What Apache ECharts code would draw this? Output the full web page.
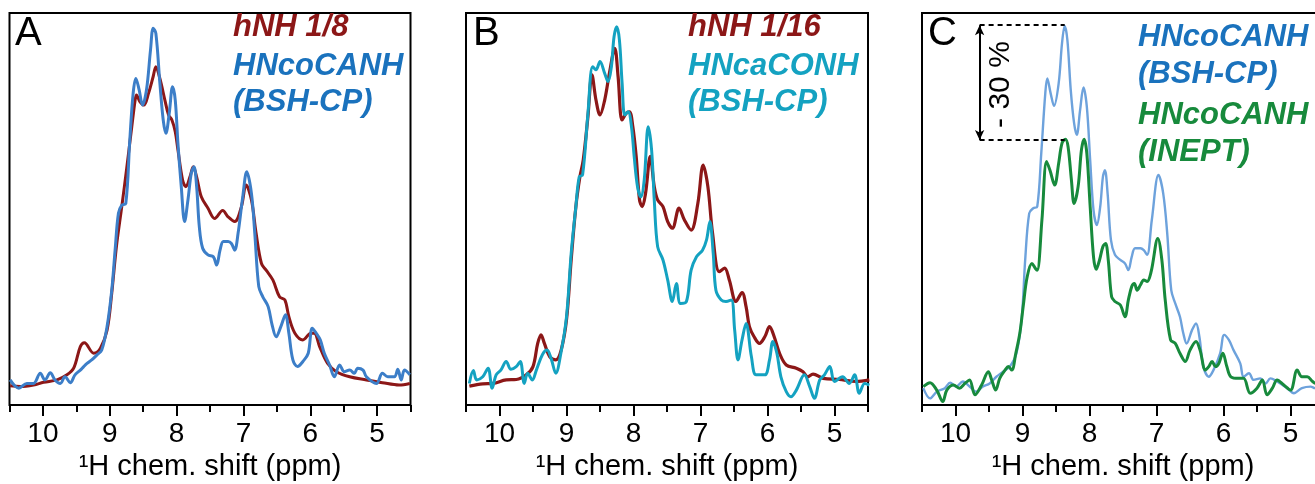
<!DOCTYPE html>
<html>
<head>
<meta charset="utf-8">
<script src="https://cdn.jsdelivr.net/npm/echarts@6/dist/echarts.min.js"></script>
<style>
html,body{margin:0;padding:0;background:#fff;}
#chart{width:1315px;height:484px;}
</style>
</head>
<body>
<div id="chart"></div>
<script>
// ---- data: [1H chemical shift (ppm), intensity (a.u.)] ----
const aRed = [[10.49,4.9],[10.34,4.7],[10.14,5.1],[9.99,5.8],[9.79,6.4],[9.64,7.7],[9.54,9.4],[9.44,14.9],[9.38,15.9],[9.24,13.2],[9.14,14.5],[9.04,19.1],[8.97,28.5],[8.90,40.4],[8.82,50.6],[8.75,59.9],[8.67,71.0],[8.62,77.8],[8.60,79.1],[8.55,77.4],[8.49,76.5],[8.42,79.5],[8.35,83.8],[8.31,86.3],[8.25,83.3],[8.17,77.4],[8.12,74.0],[8.07,72.7],[8.02,69.7],[7.98,65.1],[7.91,57.4],[7.86,55.7],[7.80,58.2],[7.75,60.8],[7.70,58.2],[7.63,53.1],[7.53,50.2],[7.43,47.6],[7.31,49.6],[7.23,48.0],[7.13,46.8],[7.03,50.6],[6.96,56.1],[6.88,52.3],[6.81,43.8],[6.73,36.1],[6.66,34.4],[6.56,31.9],[6.46,27.6],[6.38,26.8],[6.32,22.5],[6.23,18.3],[6.11,16.6],[5.99,18.3],[5.94,18.3],[5.86,14.9],[5.74,10.6],[5.61,8.5],[5.41,7.2],[5.16,6.4],[4.92,5.7],[4.67,5.1],[4.51,5.5]];
const aBlue = [[10.49,6.4],[10.36,4.3],[10.24,5.5],[10.14,5.5],[10.04,8.1],[9.97,6.4],[9.89,8.2],[9.82,6.4],[9.74,5.5],[9.67,7.2],[9.59,5.7],[9.52,7.7],[9.44,8.9],[9.39,9.8],[9.34,10.6],[9.27,11.5],[9.19,12.8],[9.12,14.0],[9.04,20.0],[8.97,29.3],[8.92,39.5],[8.87,48.9],[8.82,51.0],[8.76,51.4],[8.70,67.6],[8.65,79.5],[8.61,83.3],[8.56,80.4],[8.51,76.5],[8.45,80.4],[8.39,90.6],[8.35,96.1],[8.31,94.8],[8.25,82.1],[8.20,72.7],[8.16,69.3],[8.11,74.4],[8.06,81.2],[8.02,77.8],[7.98,66.8],[7.93,55.7],[7.88,46.8],[7.83,52.3],[7.78,59.1],[7.74,60.8],[7.70,55.7],[7.66,45.5],[7.61,40.0],[7.53,38.3],[7.45,37.8],[7.40,35.7],[7.35,39.5],[7.30,41.7],[7.23,41.7],[7.18,41.2],[7.13,39.5],[7.08,43.8],[7.01,53.1],[6.95,59.5],[6.88,54.0],[6.83,43.8],[6.77,30.2],[6.71,27.6],[6.63,25.1],[6.57,20.4],[6.51,17.4],[6.44,20.0],[6.37,23.0],[6.32,18.3],[6.26,11.5],[6.19,9.8],[6.11,11.1],[6.03,13.2],[5.97,19.6],[5.91,18.3],[5.85,16.6],[5.79,13.2],[5.71,10.2],[5.64,7.2],[5.56,10.2],[5.49,8.5],[5.41,8.9],[5.34,8.1],[5.29,9.4],[5.21,8.9],[5.16,7.2],[5.01,5.5],[4.92,8.1],[4.84,7.2],[4.74,7.2],[4.69,9.1],[4.64,6.4],[4.59,8.9],[4.51,7.7]];
const bRed = [[10.45,4.8],[10.25,5.4],[10.10,5.5],[9.90,6.4],[9.75,6.5],[9.60,7.7],[9.50,9.8],[9.43,15.7],[9.38,17.9],[9.33,15.7],[9.25,12.3],[9.16,11.5],[9.08,14.0],[9.00,21.7],[8.93,37.0],[8.86,50.6],[8.80,58.2],[8.75,62.5],[8.68,73.6],[8.62,84.2],[8.56,77.8],[8.50,74.0],[8.43,77.8],[8.36,84.6],[8.28,91.0],[8.23,83.8],[8.17,72.7],[8.11,74.4],[8.06,74.8],[8.01,71.0],[7.96,63.4],[7.91,52.3],[7.87,50.6],[7.82,54.0],[7.75,63.4],[7.69,55.7],[7.64,52.3],[7.56,50.6],[7.49,46.8],[7.42,45.1],[7.32,50.2],[7.24,47.2],[7.14,44.6],[7.04,51.4],[6.96,61.2],[6.89,55.7],[6.82,43.8],[6.72,34.0],[6.64,34.9],[6.57,31.9],[6.47,26.4],[6.38,28.7],[6.32,25.1],[6.27,20.0],[6.20,17.4],[6.12,15.7],[6.04,17.4],[5.97,20.0],[5.90,17.4],[5.82,13.2],[5.72,10.2],[5.57,9.4],[5.47,8.5],[5.40,7.2],[5.32,7.9],[5.17,6.8],[4.93,6.5],[4.68,6.0],[4.48,6.4]];
const bCyan = [[10.45,5.5],[10.39,8.8],[10.34,6.4],[10.25,7.2],[10.17,9.4],[10.11,4.3],[10.05,7.7],[9.98,8.9],[9.90,11.1],[9.83,9.1],[9.75,9.8],[9.69,11.1],[9.63,5.5],[9.58,8.1],[9.51,6.4],[9.45,8.9],[9.36,12.8],[9.29,14.0],[9.23,11.9],[9.16,8.1],[9.08,13.6],[9.00,22.5],[8.93,38.7],[8.86,50.6],[8.81,58.2],[8.76,58.7],[8.68,74.4],[8.61,86.3],[8.56,85.5],[8.50,87.6],[8.43,84.6],[8.38,82.5],[8.33,86.3],[8.29,94.0],[8.25,96.5],[8.21,93.1],[8.17,82.1],[8.13,74.0],[8.08,74.8],[8.03,71.0],[7.99,63.4],[7.94,55.7],[7.89,53.1],[7.84,57.4],[7.78,71.0],[7.73,65.1],[7.69,52.3],[7.64,40.4],[7.56,37.0],[7.49,31.9],[7.42,26.4],[7.36,31.0],[7.30,25.9],[7.21,26.4],[7.14,34.4],[7.06,37.8],[6.97,39.5],[6.91,42.1],[6.86,46.8],[6.81,38.7],[6.77,29.3],[6.69,26.8],[6.62,26.4],[6.54,26.8],[6.49,19.1],[6.44,11.5],[6.38,16.6],[6.32,20.8],[6.24,12.3],[6.17,7.7],[6.04,7.7],[5.97,11.5],[5.92,16.2],[5.86,13.2],[5.80,7.2],[5.72,3.4],[5.65,2.1],[5.57,3.8],[5.45,7.7],[5.37,4.7],[5.30,1.7],[5.22,6.4],[5.15,7.7],[5.07,9.8],[5.00,6.0],[4.88,7.2],[4.78,5.5],[4.70,7.7],[4.63,3.0],[4.55,5.5],[4.48,5.1]];
const cBlue = [[10.48,4.3],[10.38,1.7],[10.28,3.4],[10.16,4.3],[10.08,5.7],[9.99,4.7],[9.89,6.0],[9.79,4.7],[9.69,3.4],[9.59,4.7],[9.49,5.5],[9.39,7.2],[9.29,8.5],[9.19,9.8],[9.09,13.2],[9.01,22.5],[8.96,37.0],[8.90,48.9],[8.84,50.2],[8.78,50.6],[8.72,64.2],[8.66,79.5],[8.63,83.3],[8.58,79.5],[8.53,76.3],[8.46,82.1],[8.41,92.3],[8.37,96.7],[8.33,93.1],[8.28,80.4],[8.23,71.9],[8.19,68.9],[8.14,75.3],[8.09,81.0],[8.04,76.1],[7.99,62.5],[7.94,49.7],[7.89,45.9],[7.84,50.6],[7.80,58.2],[7.77,59.9],[7.73,54.0],[7.68,42.1],[7.62,38.3],[7.54,37.0],[7.47,36.1],[7.42,34.4],[7.37,37.8],[7.32,40.0],[7.24,40.0],[7.19,39.5],[7.14,38.3],[7.07,47.2],[6.97,58.7],[6.90,54.0],[6.84,43.8],[6.78,29.3],[6.72,25.9],[6.65,22.5],[6.60,18.3],[6.55,15.7],[6.47,19.1],[6.41,20.8],[6.36,17.4],[6.30,9.8],[6.22,7.2],[6.15,8.9],[6.05,13.2],[5.99,17.9],[5.92,16.6],[5.85,14.0],[5.75,10.6],[5.70,7.2],[5.62,8.1],[5.55,6.4],[5.45,6.8],[5.37,5.5],[5.30,6.8],[5.20,6.0],[5.05,4.3],[4.95,3.0],[4.83,4.3],[4.70,4.7],[4.63,4.3],[4.52,4.6]];
const cGreen = [[10.48,4.7],[10.38,5.7],[10.28,3.8],[10.19,0.9],[10.13,3.8],[10.03,5.1],[9.94,4.3],[9.86,5.5],[9.79,6.4],[9.71,2.6],[9.61,5.1],[9.51,8.5],[9.46,6.4],[9.40,3.8],[9.34,6.8],[9.26,8.9],[9.21,9.8],[9.16,8.9],[9.10,13.2],[9.04,18.3],[8.99,25.1],[8.93,32.7],[8.86,36.1],[8.81,34.9],[8.78,34.4],[8.71,47.2],[8.64,62.1],[8.59,59.9],[8.52,56.1],[8.46,61.7],[8.41,66.8],[8.36,67.8],[8.32,65.9],[8.27,57.4],[8.23,51.4],[8.17,55.7],[8.12,65.1],[8.08,67.8],[8.04,64.2],[7.99,50.6],[7.94,37.8],[7.90,34.6],[7.85,37.0],[7.80,40.4],[7.76,41.2],[7.72,37.0],[7.67,27.6],[7.62,26.4],[7.54,25.5],[7.47,22.5],[7.42,26.8],[7.37,30.2],[7.33,31.0],[7.29,29.3],[7.24,30.6],[7.19,31.9],[7.14,31.5],[7.08,34.0],[6.98,42.5],[6.92,37.0],[6.87,26.8],[6.79,16.6],[6.72,15.7],[6.65,13.2],[6.57,11.1],[6.50,14.0],[6.41,16.2],[6.35,14.0],[6.27,8.9],[6.22,9.8],[6.17,11.1],[6.12,9.8],[6.07,10.6],[6.01,13.2],[5.95,9.8],[5.89,7.2],[5.77,6.8],[5.70,6.8],[5.60,3.0],[5.50,4.3],[5.42,6.4],[5.35,2.6],[5.27,4.3],[5.20,6.4],[5.10,5.1],[5.00,3.8],[4.90,8.9],[4.83,7.2],[4.75,7.2],[4.67,6.0],[4.62,5.5],[4.52,5.6]];

// annotation in panel C (intensity drop between the two HNcoCANH maxima)
const dropTop = 96.9, dropBottom = 67.6, dropFromPpm = 9.64, dropToPpm = 8.37;
const dropLabel = '- 30 %';

const xMin = 4.5, xMax = 10.5;
const xTickLabels = [5, 6, 7, 8, 9, 10];

// ---- layout ----
const TOP = 13, H = 392;
const panels = [
  {left: 9.5, width: 401},
  {left: 466, width: 402},
  {left: 922, width: 402}
];
const FONT = '"Liberation Sans", Arial, Helvetica, sans-serif';

const grids = [], xAxes = [], yAxes = [];
panels.forEach((p, i) => {
  grids.push({left: p.left, top: TOP, width: p.width, height: H, show: true,
    borderColor: '#000', borderWidth: 2, backgroundColor: 'transparent', outerBoundsMode: 'none'});
  // helper grid for the long (integer) ticks
  const step = p.width / (xMax - xMin);
  grids.push({left: p.left + step * (xMax - xTickLabels[xTickLabels.length - 1]), top: TOP,
    width: step * (xTickLabels[xTickLabels.length - 1] - xTickLabels[0]), height: H, show: false, outerBoundsMode: 'none'});
});
panels.forEach((p, i) => {
  xAxes.push({type: 'value', gridIndex: 2 * i, min: xMin, max: xMax, interval: 0.5, inverse: true,
    axisLine: {show: false}, splitLine: {show: false},
    axisTick: {show: true, inside: false, length: 7, lineStyle: {color: '#000', width: 2}},
    axisLabel: {show: true, margin: 15, color: '#000', fontSize: 28, fontFamily: FONT,
      formatter: v => (Math.abs(v - Math.round(v)) < 1e-6 && xTickLabels.indexOf(Math.round(v)) >= 0) ? String(Math.round(v)) : '' },
    name: '\u00B9H chem. shift (ppm)', nameLocation: 'middle', nameGap: 46,
    nameTextStyle: {color: '#000', fontSize: 29, fontFamily: FONT}
  });
  xAxes.push({type: 'value', gridIndex: 2 * i + 1, min: xTickLabels[0], max: xTickLabels[xTickLabels.length - 1], interval: 1, inverse: true,
    axisLine: {show: false}, splitLine: {show: false}, axisLabel: {show: false},
    axisTick: {show: true, inside: false, length: 11, lineStyle: {color: '#000', width: 2}}
  });
  yAxes.push({type: 'value', gridIndex: 2 * i, min: 0, max: 100, show: false});
  yAxes.push({type: 'value', gridIndex: 2 * i + 1, min: 0, max: 100, show: false});
});

const RED = '#8c1717', BLUE_TXT = '#1a72bd', BLUE_LINE = '#3c7ec8', CYAN = '#14a2c1', LBLUE = '#6da2dc', GREEN = '#178a3c';

function line(data, xi, color, width, z) {
  return {type: 'line', data: data, xAxisIndex: xi, yAxisIndex: xi, showSymbol: false, symbol: 'none',
    smooth: 0.35, lineStyle: {color: color, width: width}, z: z, animation: false, silent: true};
}

const series = [
  line(aRed, 0, RED, 3, 2),
  line(aBlue, 0, BLUE_LINE, 3, 3),
  line(bRed, 2, RED, 3.2, 2),
  line(bCyan, 2, CYAN, 3, 3),
  Object.assign(line(cBlue, 4, LBLUE, 2.4, 2), {
    markLine: {silent: true, animation: false, symbol: 'none', label: {show: false},
      data: [
        [{coord: [dropFromPpm, dropTop], lineStyle: {type: [5, 4], color: '#000', width: 2}}, {coord: [dropToPpm, dropTop]}],
        [{coord: [dropFromPpm, dropBottom], lineStyle: {type: [5, 4], color: '#000', width: 2}}, {coord: [dropToPpm, dropBottom]}],
        [{coord: [dropFromPpm, dropTop], symbol: 'arrow', symbolSize: [7, 10], lineStyle: {type: 'solid', color: '#000', width: 2}},
         {coord: [dropFromPpm, dropBottom], symbol: 'arrow', symbolSize: [7, 10]}]
      ]}
  }),
  line(cGreen, 4, GREEN, 3, 3)
];

const chart = echarts.init(document.getElementById('chart'), null, {renderer: 'canvas'});
chart.setOption({animation: false, grid: grids, xAxis: xAxes, yAxis: yAxes, series: series});

// text labels
const LEG_FONT = 'italic bold 31px ' + FONT;
function txt(x, y, s, color, font, extra) {
  return Object.assign({type: 'text', x: x, y: y, silent: true, z: 10,
    style: {text: s, fill: color, font: font, textVerticalAlign: 'middle', textAlign: 'left'}}, extra || {});
}
const lp = chart.convertToPixel({gridIndex: 4}, [9.33, (dropTop + dropBottom) / 2 - 0.5]);
chart.setOption({graphic: [
  txt(15, 34, 'A', '#000', '40px ' + FONT),
  txt(473, 34, 'B', '#000', '40px ' + FONT),
  txt(928, 34, 'C', '#000', '40px ' + FONT),
  txt(233, 27, 'hNH 1/8', RED, LEG_FONT),
  txt(233, 66, 'HNcoCANH', BLUE_TXT, LEG_FONT),
  txt(233, 102, '(BSH-CP)', BLUE_TXT, LEG_FONT),
  txt(688, 27, 'hNH 1/16', RED, LEG_FONT),
  txt(688, 66, 'HNcaCONH', CYAN, LEG_FONT),
  txt(688, 102, '(BSH-CP)', CYAN, LEG_FONT),
  txt(1138, 37, 'HNcoCANH', BLUE_TXT, LEG_FONT),
  txt(1138, 74, '(BSH-CP)', BLUE_TXT, LEG_FONT),
  txt(1138, 115, 'HNcoCANH', GREEN, LEG_FONT),
  txt(1138, 152, '(INEPT)', GREEN, LEG_FONT),
  {type: 'text', x: lp[0], y: lp[1], rotation: Math.PI / 2, silent: true, z: 10,
    style: {text: dropLabel, fill: '#000', font: '30px ' + FONT, textAlign: 'center', textVerticalAlign: 'middle'}}
]});
</script>
</body>
</html>
